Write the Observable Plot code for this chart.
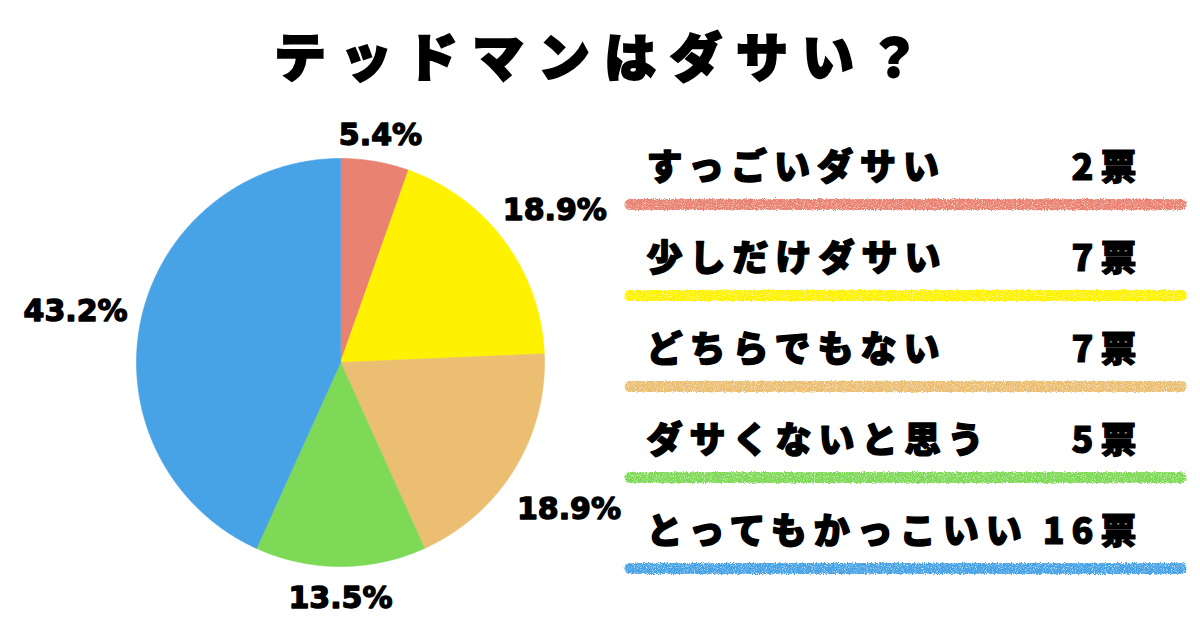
<!DOCTYPE html>
<html>
<head>
<meta charset="utf-8">
<script src="https://cdn.jsdelivr.net/npm/d3@7"></script>
<script src="https://cdn.jsdelivr.net/npm/@observablehq/plot@0.6"></script>
<style>
  html, body { margin: 0; padding: 0; background: #fff; }
  #root { position: relative; width: 1200px; height: 630px; overflow: hidden; background: #fff; }
  #title { position: absolute; left: 0; top: 23px; width: 1200px; text-align: center;
    font-family: "Noto Sans CJK JP", sans-serif; font-weight: 900; font-size: 52px; line-height: 64px;
    letter-spacing: 14px; color: #000; padding-left: 8px; box-sizing: border-box;
    -webkit-text-stroke: 2px #000; }
  #pie { position: absolute; left: 0; top: 100px; }
  #legend { position: absolute; left: 620px; top: 100px; }
</style>
</head>
<body>
<div id="root">
  <div id="title">テッドマンはダサい？</div>
  <div id="pie"></div>
  <div id="legend"></div>
</div>
<script>
// ---- data ----
const categories = ["すっごいダサい", "少しだけダサい", "どちらでもない", "ダサくないと思う", "とってもかっこいい"];
const votes = [2, 7, 7, 5, 16];
const colors = ["#EA8272", "#FFF200", "#EBBE72", "#7ED957", "#47A3E6"];
const unit = "票";

// ---- pie geometry from the data ----
const total = d3.sum(votes);
const arcs = d3.pie().sort(null).value(d => d)(votes);
const pct = d3.format(".1%");
const slices = arcs.map((a, i) => ({cat: categories[i], start: a.startAngle, end: a.endAngle,
  mid: (a.startAngle + a.endAngle) / 2, label: pct(votes[i] / total)}));
const pts = [];
for (const s of slices) {
  pts.push({cat: s.cat, x: 0, y: 0});
  const n = Math.max(2, Math.ceil((s.end - s.start) / (Math.PI / 360)));
  for (let k = 0; k <= n; k++) {
    const t = s.start + (s.end - s.start) * k / n;
    pts.push({cat: s.cat, x: Math.sin(t), y: Math.cos(t)});
  }
  pts.push({cat: s.cat, x: 0, y: 0});
}
const R = 204; // pixel radius
function labelR(s) {
  const w = 21 * s.label.length, h = 25;
  return 1 + (13 + (w / 2) * Math.abs(Math.sin(s.mid)) + (h / 2) * Math.abs(Math.cos(s.mid))) / R;
}

const pie = Plot.plot({
  width: 640, height: 530, margin: 0,
  x: {domain: [-340 / R, 300 / R], axis: null},
  y: {domain: [-268 / R, 262 / R], axis: null},
  color: {domain: categories, range: colors},
  marks: [
    Plot.line(pts, {x: "x", y: "y", z: "cat", fill: "cat", stroke: "cat", strokeWidth: 0.6, curve: "linear"}),
    Plot.text(slices, {
      x: s => Math.sin(s.mid) * labelR(s), y: s => Math.cos(s.mid) * labelR(s), dy: 6,
      text: "label", fontSize: 30, fontWeight: "bold", fontFamily: "DejaVu Sans",
      fill: "#000", stroke: "#000", strokeWidth: 1.4
    })
  ]
});
document.getElementById("pie").appendChild(pie);

const jp = "'Noto Sans CJK JP', sans-serif";
const legend = Plot.plot({
  width: 580, height: 530,
  marginTop: 68, marginBottom: 98, marginLeft: 26, marginRight: 57,
  x: {domain: [0, 1], axis: null},
  y: {type: "point", domain: categories, padding: 0, axis: null},
  color: {domain: categories, range: colors},
  marks: [
    Plot.ruleY(categories, {y: d => d, stroke: d => d, strokeWidth: 11, dy: 36,
      insetLeft: -16, insetRight: -38, strokeLinecap: "round"}),
    Plot.text(categories, {y: d => d, text: d => d, frameAnchor: "left", textAnchor: "start",
      fontSize: 36, fontWeight: 900, fontFamily: jp, fill: "#000", stroke: "#000", strokeWidth: 1.5}),
    Plot.text(categories, {y: d => d, text: (d, i) => votes[i] + unit, frameAnchor: "right", textAnchor: "end",
      fontSize: 36, fontWeight: 900, fontFamily: jp, fill: "#000", stroke: "#000", strokeWidth: 1.1})
  ]
});
// letter spacing for the Japanese labels
d3.select(legend).selectAll("g[aria-label='text'] text").style("letter-spacing", "7px");
// crayon texture for the underline strokes
const ns = "http://www.w3.org/2000/svg";
const defs = document.createElementNS(ns, "defs");
defs.innerHTML = `<filter id="crayon" x="-5%" y="-200%" width="110%" height="500%">
  <feTurbulence type="fractalNoise" baseFrequency="0.9" numOctaves="3" seed="4" result="noise"/>
  <feDisplacementMap in="SourceGraphic" in2="noise" scale="4" xChannelSelector="R" yChannelSelector="G" result="rough"/>
  <feColorMatrix in="noise" type="matrix" values="0 0 0 0 1  0 0 0 0 1  0 0 0 0 1  -2.2 0 0 0 2.1" result="mask"/>
  <feComposite in="rough" in2="mask" operator="in"/>
</filter>`;
legend.insertBefore(defs, legend.firstChild);
d3.select(legend).selectAll("g[aria-label='rule']").attr("filter", "url(#crayon)");
document.getElementById("legend").appendChild(legend);
</script>
</body>
</html>
